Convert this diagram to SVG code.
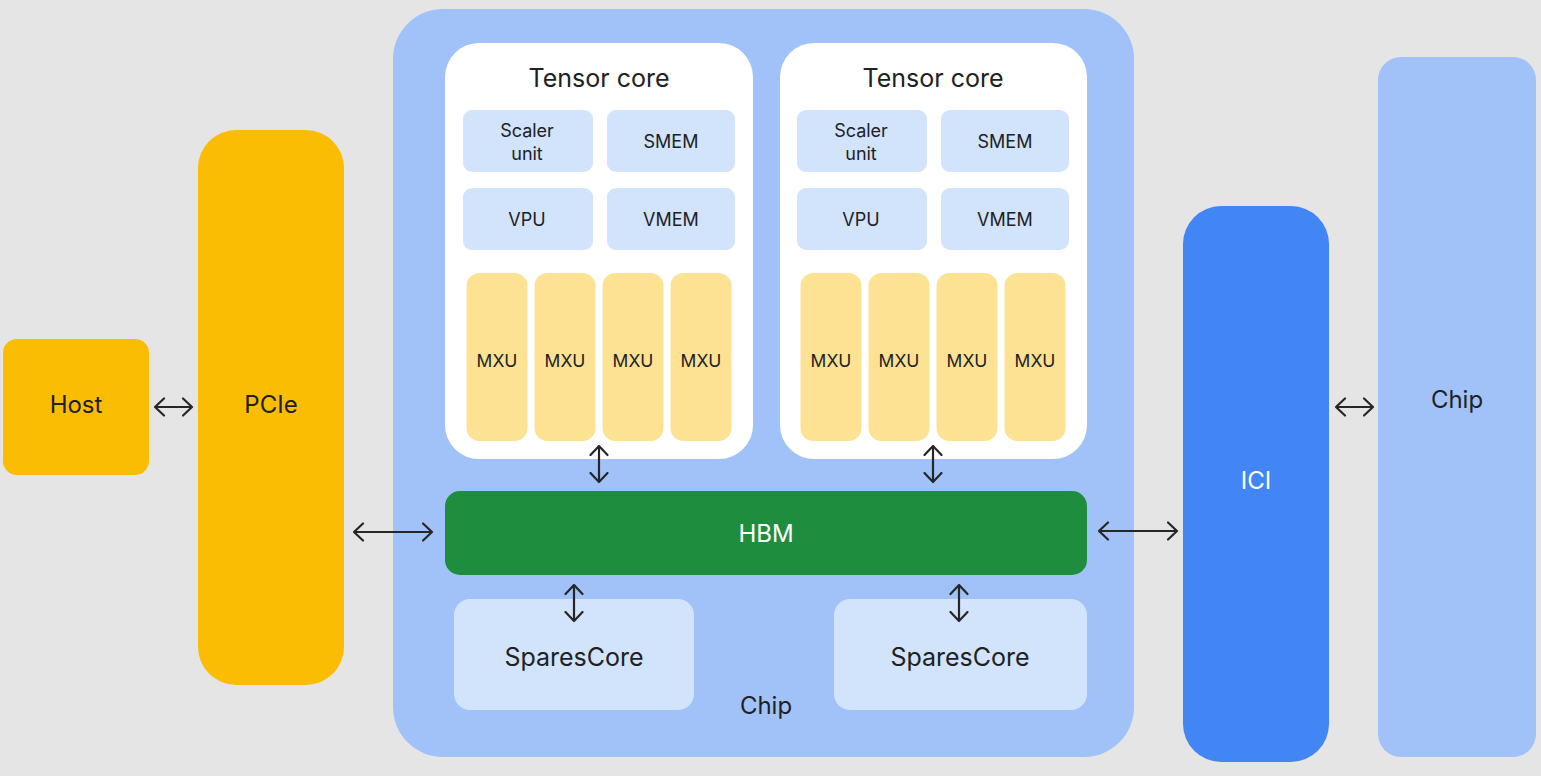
<svg xmlns="http://www.w3.org/2000/svg" width="1541" height="776" viewBox="0 0 1541 776">
<style>
text{font-family:Inter,Roboto,"Liberation Sans",sans-serif;fill:#202124;text-anchor:middle}
.w{fill:#ffffff}
.sub{fill:#d2e3fc}
.mxu{fill:#fde293}
.yel{fill:#fbbc04}
.conn{stroke:#262626;stroke-width:2.2;fill:none;marker-start:url(#ah);marker-end:url(#ah)}
.t18{font-size:18px}
.t16{font-size:17.5px}
.t24{font-size:24px}
.t25{font-size:25px}
</style>
<defs>
<marker id="ah" viewBox="0 0 12 20" markerWidth="12" markerHeight="20" refX="10.5" refY="10" orient="auto-start-reverse" markerUnits="userSpaceOnUse">
<path d="M1.5,1.5 L10.5,10 L1.5,18.5" fill="none" stroke="#262626" stroke-width="2.2" stroke-linecap="round" stroke-linejoin="round"/>
</marker>
</defs>
<rect width="1541" height="776" fill="#e5e5e5"/>

<g id="host"><rect x="3" y="339" width="146" height="136" rx="14" class="yel"/><text x="76" y="413" class="t24">Host</text></g>
<g id="pcie"><rect x="198" y="130" width="146" height="555" rx="38" class="yel"/><text x="271" y="413" class="t24">PCIe</text></g>

<g id="chip-main"><rect x="393" y="9" width="741" height="748" rx="50" fill="#a0c2f9"/><text x="766" y="714" class="t24">Chip</text></g>

<g id="tensor-core-1">
<rect x="445" y="43" width="308" height="416" rx="34" class="w"/>
<text x="599" y="87" class="t25">Tensor core</text>
<rect x="463" y="110" width="130" height="62" rx="9" class="sub"/>
<text x="527" y="137" class="t18">Scaler</text><text x="527" y="160" class="t18">unit</text>
<rect x="607" y="110" width="128" height="62" rx="9" class="sub"/><text x="671" y="148" class="t18">SMEM</text>
<rect x="463" y="188" width="130" height="62" rx="9" class="sub"/><text x="527" y="226" class="t18">VPU</text>
<rect x="607" y="188" width="128" height="62" rx="9" class="sub"/><text x="671" y="226" class="t18">VMEM</text>
<rect x="466.5" y="273" width="61" height="168" rx="13" class="mxu"/><text x="497" y="367" class="t16">MXU</text>
<rect x="534.5" y="273" width="61" height="168" rx="13" class="mxu"/><text x="565" y="367" class="t16">MXU</text>
<rect x="602.5" y="273" width="61" height="168" rx="13" class="mxu"/><text x="633" y="367" class="t16">MXU</text>
<rect x="670.5" y="273" width="61" height="168" rx="13" class="mxu"/><text x="701" y="367" class="t16">MXU</text>
</g>

<g id="tensor-core-2">
<rect x="780" y="43" width="307" height="416" rx="34" class="w"/>
<text x="933" y="87" class="t25">Tensor core</text>
<rect x="797" y="110" width="130" height="62" rx="9" class="sub"/>
<text x="861" y="137" class="t18">Scaler</text><text x="861" y="160" class="t18">unit</text>
<rect x="941" y="110" width="128" height="62" rx="9" class="sub"/><text x="1005" y="148" class="t18">SMEM</text>
<rect x="797" y="188" width="130" height="62" rx="9" class="sub"/><text x="861" y="226" class="t18">VPU</text>
<rect x="941" y="188" width="128" height="62" rx="9" class="sub"/><text x="1005" y="226" class="t18">VMEM</text>
<rect x="800.5" y="273" width="61" height="168" rx="13" class="mxu"/><text x="831" y="367" class="t16">MXU</text>
<rect x="868.5" y="273" width="61" height="168" rx="13" class="mxu"/><text x="899" y="367" class="t16">MXU</text>
<rect x="936.5" y="273" width="61" height="168" rx="13" class="mxu"/><text x="967" y="367" class="t16">MXU</text>
<rect x="1004.5" y="273" width="61" height="168" rx="13" class="mxu"/><text x="1035" y="367" class="t16">MXU</text>
</g>

<g id="hbm"><rect x="445" y="491" width="642" height="84" rx="15" fill="#1e8e3e"/><text x="766" y="542" class="t24 w">HBM</text></g>

<g id="sparsecore-1"><rect x="454" y="599" width="240" height="111" rx="16" class="sub"/><text x="574" y="666" class="t25">SparesCore</text></g>
<g id="sparsecore-2"><rect x="834" y="599" width="253" height="111" rx="16" class="sub"/><text x="960" y="666" class="t25">SparesCore</text></g>

<g id="ici"><rect x="1183" y="206" width="146" height="556" rx="38" fill="#4285f4"/><text x="1256" y="489" class="t24 w">ICI</text></g>
<g id="chip-right"><rect x="1378" y="57" width="158" height="700" rx="23" fill="#a0c2f9"/><text x="1457" y="408" class="t24">Chip</text></g>

<g id="connectors">
<line x1="155" y1="407" x2="192" y2="407" class="conn"/>
<line x1="354" y1="532" x2="432" y2="532" class="conn"/>
<line x1="1099" y1="531" x2="1177" y2="531" class="conn"/>
<line x1="1336" y1="407" x2="1373" y2="407" class="conn"/>
<line x1="599" y1="446" x2="599" y2="482" class="conn"/>
<line x1="933" y1="446" x2="933" y2="482" class="conn"/>
<line x1="574" y1="585" x2="574" y2="621" class="conn"/>
<line x1="959" y1="585" x2="959" y2="621" class="conn"/>
</g>
</svg>
